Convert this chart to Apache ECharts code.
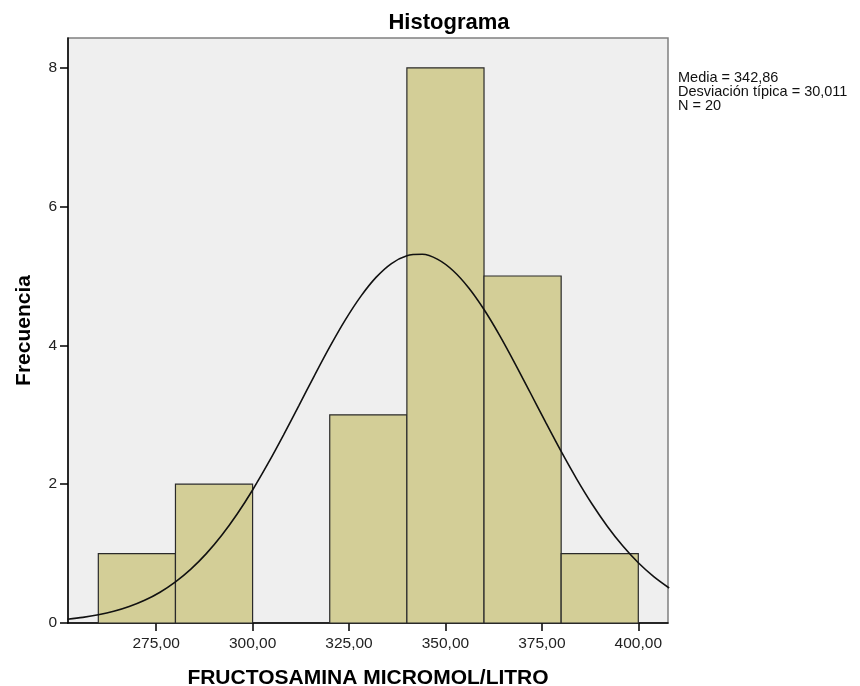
<!DOCTYPE html>
<html>
<head>
<meta charset="utf-8">
<script src="https://cdn.jsdelivr.net/npm/echarts@6/dist/echarts.min.js"></script>
<style>html,body{margin:0;padding:0;background:#fff}#c{width:860px;height:686px}</style>
</head>
<body>
<div id="c"></div>
<script>
// Histogram bins (FRUCTOSAMINA MICROMOL/LITRO)
const binStart = [260, 280, 320, 340, 360, 380];
const binEnd   = [280, 300, 340, 360, 380, 400];
const counts   = [1, 2, 3, 8, 5, 1];
// Normal curve
const curveX = [252, 256, 260, 264, 268, 272, 276, 280, 284, 288, 292, 296, 300, 304, 308, 312, 316, 320, 324, 328, 332, 336, 340, 344, 348, 352, 356, 360, 364, 368, 372, 376, 380, 384, 388, 392, 396, 400, 404, 408];
const curveY = [0.054, 0.081, 0.118, 0.168, 0.237, 0.327, 0.444, 0.593, 0.777, 1.000, 1.265, 1.571, 1.917, 2.299, 2.708, 3.134, 3.562, 3.978, 4.364, 4.703, 4.980, 5.180, 5.293, 5.313, 5.240, 5.076, 4.831, 4.517, 4.149, 3.743, 3.318, 2.890, 2.472, 2.078, 1.715, 1.392, 1.109, 0.868, 0.668, 0.504];
const xTicks = [275, 300, 325, 350, 375, 400];
const yTicks = [0, 2, 4, 6, 8];
const statsLines = ['Media = 342,86', 'Desviación típica = 30,011', 'N = 20'];

const FONT = '"Liberation Sans", Arial, sans-serif';
const chart = echarts.init(document.getElementById('c'), null, {renderer: 'canvas'});
const barData = binStart.map((s, i) => [s, binEnd[i], counts[i]]);
const lineData = curveX.map((x, i) => [x, curveY[i]]);

chart.setOption({
  animation: false,
  backgroundColor: '#ffffff',
  title: {
    text: 'Histograma',
    left: 444, top: 7, textAlign: 'center',
    textStyle: {fontFamily: FONT, fontSize: 22, fontWeight: 'bold', color: '#000'}
  },
  grid: {
    left: 68, top: 38, width: 600, height: 585,
    outerBoundsMode: 'none', containLabel: false,
    show: true, backgroundColor: '#EFEFEF', borderColor: '#808080', borderWidth: 1.5
  },
  xAxis: {
    type: 'value', min: 252.14, max: 407.7,
    name: 'FRUCTOSAMINA MICROMOL/LITRO', nameLocation: 'middle', nameGap: 45,
    nameTextStyle: {fontFamily: FONT, fontSize: 21, fontWeight: 'bold', color: '#000'},
    axisLine: {show: true, onZero: false, lineStyle: {color: '#000', width: 1.5}},
    axisTick: {show: true, length: 8, customValues: xTicks, lineStyle: {color: '#000', width: 1.5}},
    axisLabel: {customValues: xTicks, margin: 13, fontFamily: FONT, fontSize: 15.5, color: '#222',
      formatter: v => v.toFixed(2).replace('.', ',')},
    splitLine: {show: false}
  },
  yAxis: {
    type: 'value', min: 0, max: 8.43,
    name: 'Frecuencia', nameLocation: 'middle', nameGap: 33, nameRotate: 90,
    nameTextStyle: {fontFamily: FONT, fontSize: 21, fontWeight: 'bold', color: '#000'},
    axisLine: {show: true, onZero: false, lineStyle: {color: '#000', width: 1.5}},
    axisTick: {show: true, length: 8, customValues: yTicks, lineStyle: {color: '#000', width: 1.5}},
    axisLabel: {customValues: yTicks, margin: 11, fontFamily: FONT, fontSize: 15.5, color: '#222'},
    splitLine: {show: false}
  },
  graphic: statsLines.map((t, i) => ({
    type: 'text', left: 678, top: 70 + i * 14,
    style: {text: t, fontFamily: FONT, fontSize: 14.5, fill: '#111'}
  })),
  series: [
    {
      type: 'custom',
      data: barData,
      encode: {x: [0, 1], y: 2},
      renderItem: function (params, api) {
        const p0 = api.coord([api.value(0), 0]);
        const p1 = api.coord([api.value(1), api.value(2)]);
        return {
          type: 'rect',
          shape: {x: p0[0], y: p1[1], width: p1[0] - p0[0], height: p0[1] - p1[1]},
          style: {fill: '#D3CE97', stroke: '#2a2a2a', lineWidth: 1.2}
        };
      },
      z: 2
    },
    {
      type: 'line',
      data: lineData,
      smooth: 0.3,
      showSymbol: false,
      clip: true,
      lineStyle: {color: '#111', width: 1.6},
      z: 3
    }
  ]
});
</script>
</body>
</html>
